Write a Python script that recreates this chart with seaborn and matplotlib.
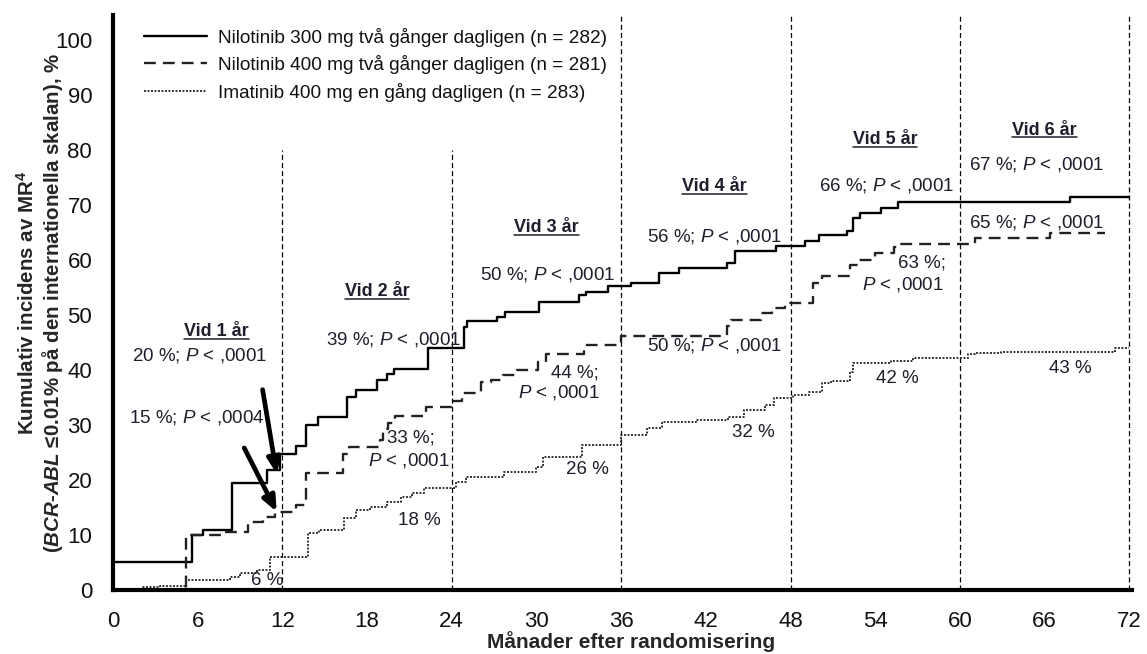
import matplotlib
matplotlib.use("Agg")
import numpy as np
import pandas as pd
import matplotlib.pyplot as plt
import seaborn as sns
from matplotlib import font_manager
from matplotlib.lines import Line2D

# Cumulative incidence of MR4 (step functions), months vs percent
nil300_months = [0, 5.6, 6.4, 8.4, 10.9, 11.8, 13.0, 13.7, 14.5, 16.6, 17.2, 18.7,
                 19.4, 19.9, 22.3, 24.9, 25.1, 27.2, 27.8, 30.2, 33.0, 33.5, 35.1,
                 36.7, 38.7, 40.1, 43.5, 44.1, 47.0, 49.0, 50.0, 52.0, 52.4, 52.9,
                 54.4, 55.6, 67.8, 72.0]
nil300_pct = [5.0, 10.0, 10.9, 19.5, 21.8, 24.7, 26.2, 30.0, 31.5, 35.0, 36.4, 38.2,
              39.3, 40.2, 44.0, 47.8, 48.9, 49.7, 50.6, 52.4, 53.6, 54.2, 55.2,
              55.8, 57.6, 58.5, 59.5, 61.6, 62.5, 63.5, 64.5, 65.2, 67.6, 68.6,
              69.4, 70.5, 71.5, 71.5]

nil400_months = [0, 5.2, 7.8, 9.6, 10.6, 11.5, 13.0, 13.7, 16.3, 16.7, 18.9, 19.1,
                 19.5, 20.0, 22.2, 24.0, 24.7, 26.1, 26.8, 27.6, 28.6, 30.1, 30.7,
                 33.4, 36.0, 43.5, 43.8, 45.9, 46.7, 47.6, 49.6, 50.2, 52.2, 52.8,
                 54.0, 55.3, 55.6, 61.1, 66.4, 70.3]
nil400_pct = [0.0, 10.0, 10.6, 12.4, 13.3, 14.2, 15.5, 21.2, 24.7, 26.0, 27.3, 29.3,
              30.4, 31.6, 33.3, 34.4, 35.8, 37.8, 38.2, 39.1, 40.0, 41.5, 42.9,
              44.5, 46.2, 47.9, 49.1, 50.3, 51.3, 52.2, 55.8, 57.0, 59.1, 60.0,
              61.2, 62.4, 62.9, 64.0, 64.9, 64.9]

ima400_months = [0, 2.1, 3.3, 5.2, 8.3, 9.0, 10.2, 11.1, 13.8, 14.6, 16.4, 17.2,
                 18.2, 19.4, 20.4, 21.2, 22.0, 24.3, 25.0, 27.7, 30.0, 30.5, 33.2,
                 36.0, 37.8, 38.9, 41.3, 43.6, 44.7, 46.2, 46.8, 48.2, 49.3, 50.2,
                 50.9, 52.2, 52.4, 55.1, 56.7, 60.6, 61.1, 62.9, 71.0, 72.0]
ima400_pct = [0.2, 0.6, 0.8, 1.8, 2.4, 3.1, 3.6, 6.0, 10.4, 10.9, 13.1, 14.5,
              15.1, 16.0, 16.9, 17.6, 18.6, 19.6, 20.5, 21.5, 22.4, 24.2, 26.4,
              28.2, 29.4, 30.6, 30.9, 31.4, 32.7, 33.6, 34.9, 35.5, 36.0, 37.6,
              38.0, 39.6, 41.2, 41.6, 42.2, 42.9, 43.1, 43.3, 44.0, 44.0]

series_names = ["Nilotinib 300 mg två gånger dagligen (n = 282)",
                "Nilotinib 400 mg två gånger dagligen (n = 281)",
                "Imatinib 400 mg en gång dagligen (n = 283)"]

year_marks = [12, 24, 36, 48, 60, 72]
year_headings = ["Vid 1 år", "Vid 2 år", "Vid 3 år", "Vid 4 år", "Vid 5 år", "Vid 6 år"]
heading_pos = [(7.35, 46.9), (18.7, 54.2), (30.7, 65.8), (42.6, 73.3), (54.7, 81.8), (66.0, 83.6)]

# result annotations: (text, month, pct)
result_notes = [
    ("20 %; $P$ < ,0001", 6.15, 42.7),
    ("15 %; $P$ < ,0004", 5.9, 31.3),
    ("6 %", 10.95, 1.8),
    ("39 %; $P$ < ,0001", 19.9, 45.6),
    ("33 %;", 21.1, 27.6),
    ("$P$ < ,0001", 21.0, 23.6),
    ("18 %", 21.7, 12.7),
    ("50 %; $P$ < ,0001", 30.8, 57.3),
    ("44 %;", 32.7, 39.5),
    ("$P$ < ,0001", 31.6, 35.8),
    ("26 %", 33.6, 21.8),
    ("56 %; $P$ < ,0001", 42.6, 64.2),
    ("50 %; $P$ < ,0001", 42.6, 44.4),
    ("32 %", 45.4, 28.7),
    ("66 %; $P$ < ,0001", 54.8, 73.6),
    ("63 %;", 57.3, 59.5),
    ("$P$ < ,0001", 56.0, 55.5),
    ("42 %", 55.6, 38.4),
    ("67 %; $P$ < ,0001", 65.4, 77.3),
    ("65 %; $P$ < ,0001", 65.4, 66.7),
    ("43 %", 67.8, 40.2),
]

# arrows pointing at the 12-month values: (start month, start pct, end month, end pct)
arrow_specs = [(10.6, 36.4, 11.6, 21.1), (9.3, 25.8, 11.6, 14.2)]

x_major = list(range(0, 73, 6))
x_minor = list(range(3, 73, 6))
y_ticks = list(range(0, 101, 10))


def pick_font(candidates):
    for name in candidates:
        try:
            font_manager.findfont(font_manager.FontProperties(family=name),
                                  fallback_to_default=False)
            return name
        except ValueError:
            continue
    return "DejaVu Sans"


sns.set_theme(style="white")
base_font = pick_font(["Liberation Sans", "Arial", "DejaVu Sans"])
narrow_font = pick_font(["Liberation Sans Narrow", "Arial Narrow", base_font])
plt.rcParams["font.family"] = [base_font, "DejaVu Sans"]
plt.rcParams["mathtext.fontset"] = "custom"
plt.rcParams["mathtext.rm"] = base_font
plt.rcParams["mathtext.it"] = base_font + ":italic"
plt.rcParams["mathtext.bf"] = base_font + ":bold"
plt.rcParams["mathtext.bfit"] = base_font + ":italic:bold"

fig = plt.figure(figsize=(11.47, 6.54), dpi=100)
ax = fig.add_axes([0.0985, 0.098, 0.8885, 0.879])

df = pd.concat([
    pd.DataFrame({"month": nil300_months, "pct": nil300_pct, "arm": series_names[0]}),
    pd.DataFrame({"month": nil400_months, "pct": nil400_pct, "arm": series_names[1]}),
    pd.DataFrame({"month": ima400_months, "pct": ima400_pct, "arm": series_names[2]}),
])

styles = {
    series_names[0]: dict(color="black", lw=1.7, linestyle="-"),
    series_names[1]: dict(color="#222222", lw=1.7, linestyle=(0, (5, 3))),
    series_names[2]: dict(color="#333333", lw=1.4, linestyle=(0, (1, 0.8))),
}

for name in series_names:
    sub = df[df["arm"] == name]
    sns.lineplot(data=sub, x="month", y="pct", ax=ax, estimator=None,
                 drawstyle="steps-post", legend=False, **styles[name])

# yearly guide lines
for m in year_marks:
    top = 80 if m < 36 else 104.5
    ax.plot([m, m], [0, top], color="black", lw=0.9, linestyle=(0, (4, 2.5)), zorder=1)

ax.set_xlim(0, 72.2)
ax.set_ylim(0, 104.5)
ax.set_xticks(x_major)
ax.set_xticks(x_minor, minor=True)
ax.set_yticks(y_ticks)
ax.set_xticklabels([str(v) for v in x_major], fontfamily=narrow_font, fontsize=16)
ax.set_yticklabels([str(v) for v in y_ticks], fontfamily=narrow_font, fontsize=16)
ax.tick_params(axis="both", which="both", direction="out", length=9, width=2.4,
               color="black", labelcolor="#111111")
ax.tick_params(axis="x", which="both", pad=6)
ax.tick_params(axis="y", pad=6)

for side in ["top", "right"]:
    ax.spines[side].set_visible(False)
for side in ["left", "bottom"]:
    ax.spines[side].set_linewidth(3.0)
    ax.spines[side].set_color("black")

ax.set_xlabel("Månader efter randomisering", fontfamily=narrow_font, fontweight="bold",
              fontsize=15)
ax.xaxis.set_label_coords(0.508, -0.071)
ax.set_ylabel("Kumulativ incidens av MR$^{\\mathbf{4}}$\n($\\mathbfit{BCR}$-$\\mathbfit{ABL}$ ≤0.01% på den internationella skalan), %",
              fontweight="bold", fontsize=14.8, linespacing=1.1)
ax.yaxis.set_label_coords(-0.047, 0.5)

text_color = "#1e1e2c"
heading_texts = []
for label, (mx, my) in zip(year_headings, heading_pos):
    t = ax.text(mx, my, label, ha="center", va="center", fontsize=13,
                fontweight="bold", color=text_color)
    heading_texts.append(t)

for txt, mx, my in result_notes:
    ax.text(mx, my, txt, ha="center", va="center", fontsize=13.5, color=text_color)

for x0, y0, x1, y1 in arrow_specs:
    ax.annotate("", xy=(x1, y1), xytext=(x0, y0),
                arrowprops=dict(arrowstyle="-|>,head_length=0.75,head_width=0.32",
                                color="black", lw=3.4, shrinkA=0, shrinkB=0))

handles = [Line2D([0], [0], **styles[n]) for n in series_names]
leg = ax.legend(handles, series_names, loc="upper left", bbox_to_anchor=(0.014, 1.008),
                frameon=False, fontsize=13.7, handlelength=3.3, handletextpad=0.55,
                labelspacing=0.45)
for t in leg.get_texts():
    t.set_color("#111111")

# underline the yearly headings
fig.canvas.draw()
renderer = fig.canvas.get_renderer()
inv = fig.transFigure.inverted()
for t in heading_texts:
    bb = t.get_window_extent(renderer)
    (fx0, fy0), (fx1, _) = inv.transform([(bb.x0, bb.y0 + 1.5), (bb.x1, bb.y0 + 1.5)])
    fig.add_artist(Line2D([fx0, fx1], [fy0, fy0], color=text_color, lw=1.1))

fig.savefig("out.png", dpi=100)
